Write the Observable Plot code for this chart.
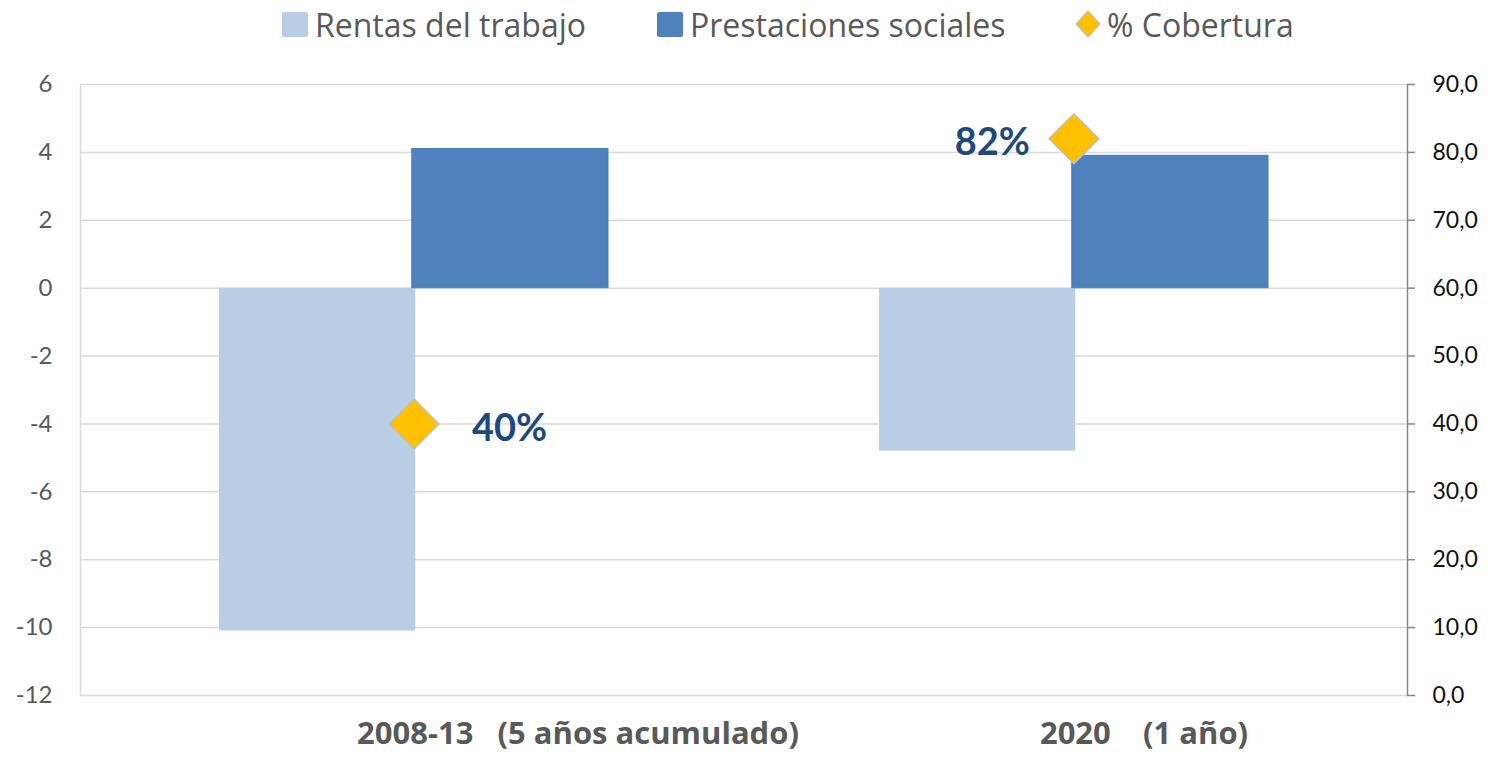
<!DOCTYPE html>
<html><head><meta charset="utf-8">
<script src="https://cdn.jsdelivr.net/npm/d3@7"></script>
<script src="https://cdn.jsdelivr.net/npm/@observablehq/plot@0.6"></script>
<style>
body{margin:0;background:#fff;font-family:Lato,sans-serif;width:1497px;height:763px;overflow:hidden;}
#legend{position:relative;height:48px;}
.item{position:absolute;top:0;height:48px;display:flex;align-items:center;font-family:"Open Sans",sans-serif;font-size:32px;color:#595959;white-space:nowrap;}
.sw{width:26px;height:25px;border-radius:2px;margin-right:7px;}
svg text{white-space:pre;}
</style></head><body>
<div id="legend"></div>
<div id="chart"></div>
<script>
const categories = ["2008-13", "2020"];
const categoryLabels = ["2008-13   (5 años acumulado)", "2020    (1 año)"];
const seriesNames = ["Rentas del trabajo", "Prestaciones sociales", "% Cobertura"];
const seriesColors = ["#B9CDE5", "#4F81BD", "#FFC000"];
const rentas = [-10.1, -4.8];
const prestaciones = [4.1, 3.9];
const cobertura = [40, 82];
const coberturaLabels = ["40%", "82%"];
const leftTicks = [-12, -10, -8, -6, -4, -2, 0, 2, 4, 6];
const rightTicks = [0, 10, 20, 30, 40, 50, 60, 70, 80, 90];

// legend
const legend = document.getElementById("legend");
const legendLeft = [282, 657, 1075];
seriesNames.forEach((name, i) => {
  const el = document.createElement("div");
  el.className = "item";
  el.style.left = legendLeft[i] + "px";
  if (i < 2) {
    el.innerHTML = `<div class="sw" style="background:${seriesColors[i]}"></div><span>${name}</span>`;
  } else {
    el.innerHTML = `<svg width="26" height="30" style="margin-right:6px"><path d="M13,2 L25,15 L13,28 L1,15 Z" fill="${seriesColors[2]}" stroke="#BFBFBF" stroke-width="1.2"/></svg><span>${name}</span>`;
  }
  legend.appendChild(el);
});

const yMin = leftTicks[0], yMax = leftTicks[leftTicks.length - 1];
const rMin = rightTicks[0], rMax = rightTicks[rightTicks.length - 1];
const toLeft = v => yMin + (v - rMin) * (yMax - yMin) / (rMax - rMin);
const fmtRight = d => (rMin + (d - yMin) * (rMax - rMin) / (yMax - yMin)).toFixed(1).replace(".", ",");
const fmtLeft = d => String(d);

const data = categories.map((c, i) => ({cat: c, rentas: rentas[i], prest: prestaciones[i], cob: toLeft(cobertura[i]), lab: coberturaLabels[i], catLabel: categoryLabels[i]}));

const width = 1497, height = 715, mL = 80, mR = 90;
const padIn = 0.41, padOut = 0.21;
const bw = d3.scaleBand().domain(categories).range([mL, width - mR]).paddingInner(padIn).paddingOuter(padOut).bandwidth();

const chart = Plot.plot({
  width, height,
  marginLeft: mL, marginRight: mR, marginTop: 36, marginBottom: 68,
  style: {fontFamily: "Lato, sans-serif", background: "#fff"},
  x: {domain: categories, paddingInner: padIn, paddingOuter: padOut, axis: null},
  y: {domain: [yMin, yMax], axis: null},
  marks: [
    Plot.gridY(leftTicks, {stroke: "#D9D9D9", strokeOpacity: 1, strokeWidth: 1.5}),
    Plot.frame({anchor: "left", stroke: "#D9D9D9", strokeWidth: 1.5}),
    Plot.frame({anchor: "right", stroke: "#868686", strokeWidth: 1.5}),
    Plot.axisY(leftTicks, {anchor: "left", tickSize: 0, tickPadding: 28, fontSize: 24, color: "#595959", tickFormat: fmtLeft, label: null}),
    Plot.axisY(leftTicks, {anchor: "right", tickSize: 7, color: "#868686", strokeWidth: 1.5, tickFormat: () => "", label: null}),
    Plot.axisY(leftTicks, {anchor: "right", tickSize: 0, tickPadding: 25, fontSize: 23, color: "#111", tickFormat: fmtRight, label: null}),
    Plot.barY(data, {x: "cat", y: "rentas", fill: seriesColors[0], insetRight: bw / 2 - 2}),
    Plot.barY(data, {x: "cat", y: "prest", fill: seriesColors[1], stroke: "#4A7EBB", strokeWidth: 1, insetLeft: bw / 2 - 2}),
    Plot.dot(data, {x: "cat", y: "cob", symbol: "diamond2", r: 22.5, fill: seriesColors[2], stroke: "#BFBFBF", strokeWidth: 1.5}),
    Plot.text(data, {filter: (d, i) => i === 0, x: "cat", y: "cob", text: "lab", dx: 58, dy: 5, textAnchor: "start", fontSize: 38, fontWeight: "bold", fill: "#1F497D"}),
    Plot.text(data, {filter: (d, i) => i === 1, x: "cat", y: "cob", text: "lab", dx: -44, dy: 4, textAnchor: "end", fontSize: 38, fontWeight: "bold", fill: "#1F497D"}),
    Plot.text(data, {filter: (d, i) => i === 0, x: "cat", text: "catLabel", frameAnchor: "bottom", dy: 48, dx: 164, fontSize: 31, fontFamily: "Open Sans, sans-serif", fontWeight: "bold", fill: "#595959"}),
    Plot.text(data, {filter: (d, i) => i === 1, x: "cat", text: "catLabel", frameAnchor: "bottom", dy: 48, dx: 70, fontSize: 31, fontFamily: "Open Sans, sans-serif", fontWeight: "bold", fill: "#595959"})
  ]
});
document.getElementById("chart").appendChild(chart);
</script>
</body></html>
